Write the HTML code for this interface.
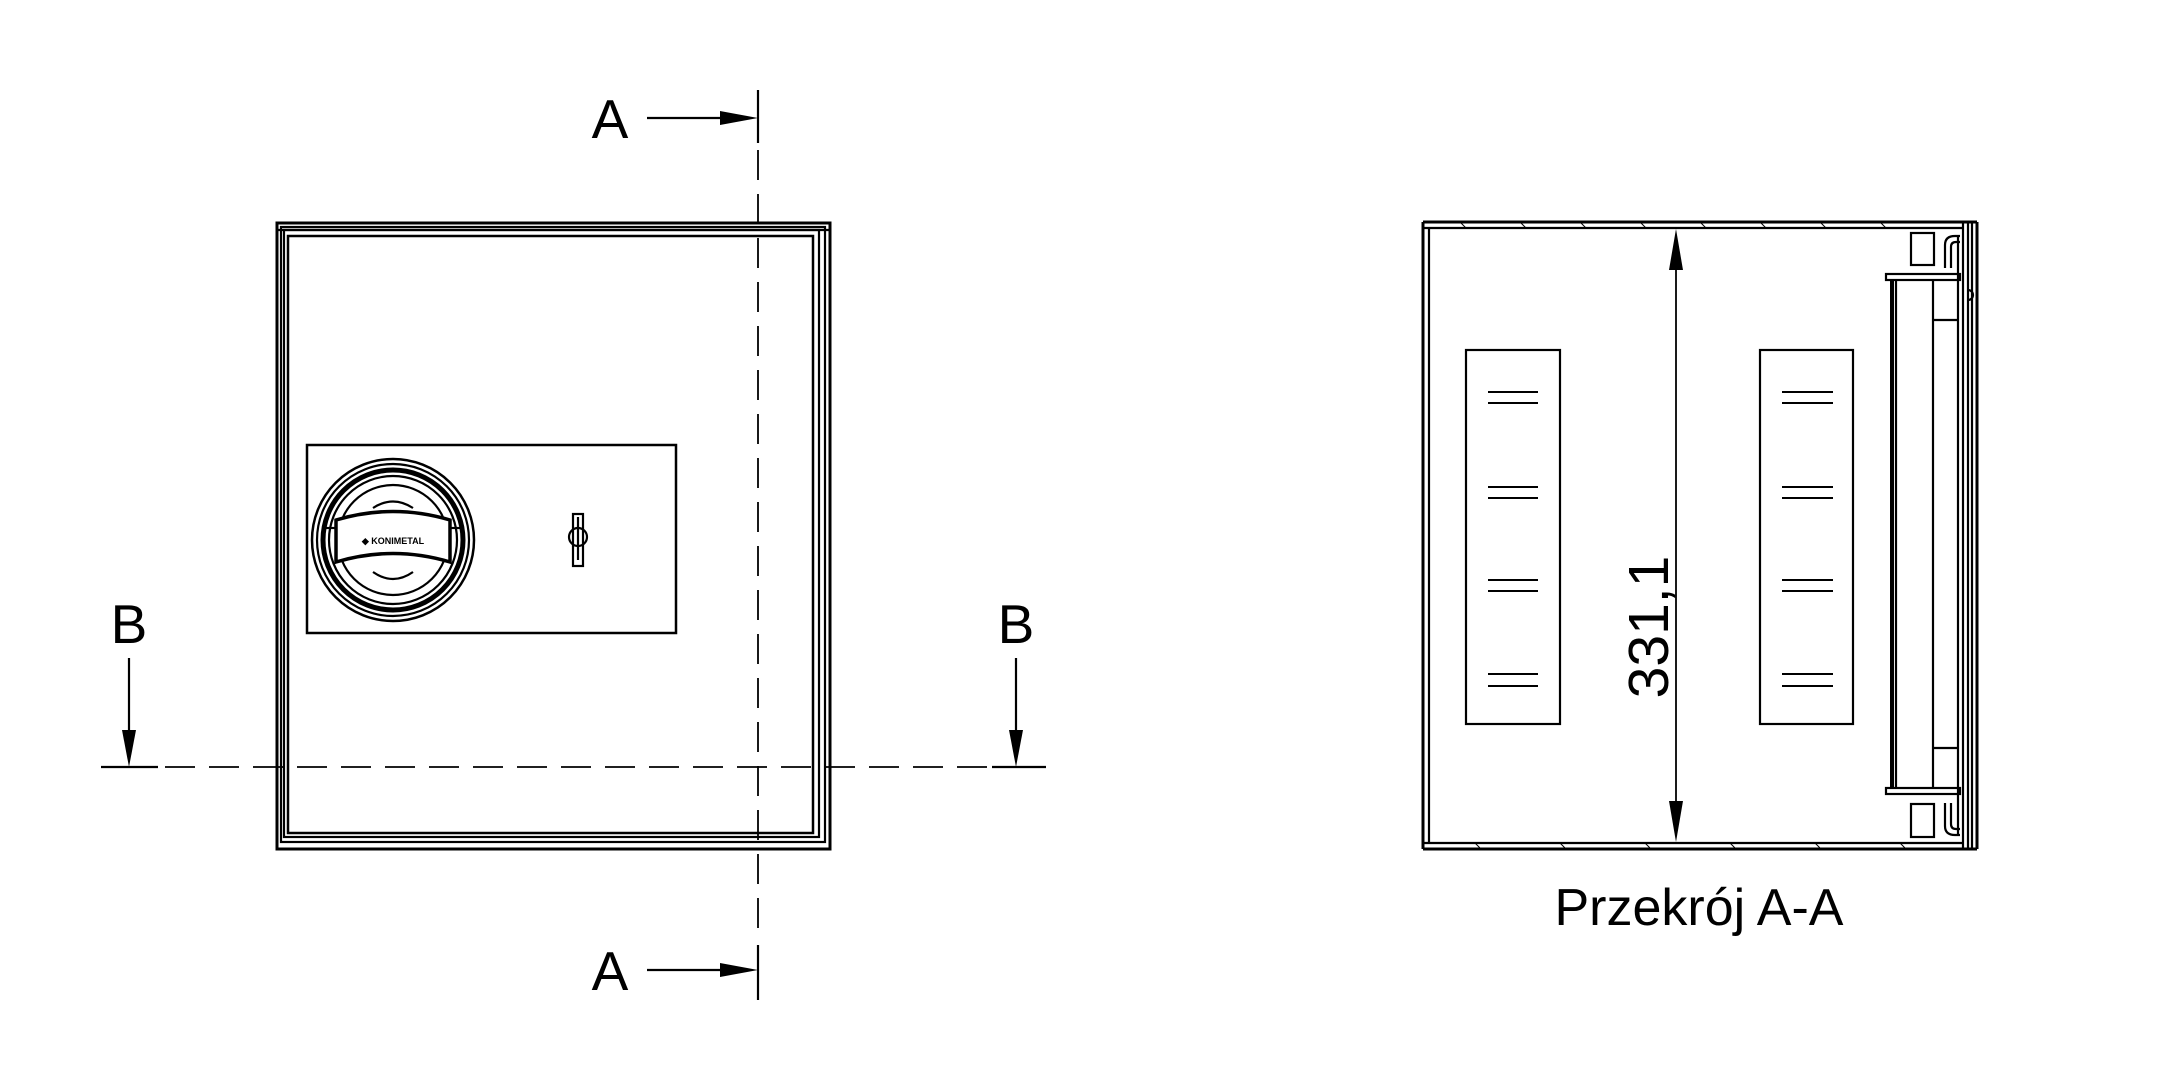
<!DOCTYPE html>
<html><head><meta charset="utf-8"><style>
html,body{margin:0;padding:0;background:#fff;width:2160px;height:1086px;overflow:hidden}
svg{display:block}
text{font-family:"Liberation Sans",sans-serif;fill:#000}
</style></head><body>
<svg width="2160" height="1086" viewBox="0 0 2160 1086" xmlns="http://www.w3.org/2000/svg">
<g fill="none" stroke="#000" stroke-width="2.2">
<rect x="277" y="223" width="553" height="626" stroke-width="3"/>
<rect x="281" y="227" width="544" height="615"/>
<rect x="284" y="230" width="535" height="607"/>
<rect x="288" y="236" width="525" height="597" stroke-width="2.5"/>
<line x1="277" y1="230" x2="830" y2="230"/>
<rect x="307" y="445" width="369" height="188" stroke-width="2.5"/>
<circle cx="393" cy="540" r="81" stroke-width="2.5"/>
<circle cx="393" cy="540" r="76"/>
<circle cx="393" cy="540" r="70" stroke-width="5"/>
<circle cx="393" cy="540" r="64"/>
<circle cx="393" cy="540" r="55"/>
<path d="M336 520 Q393 503 450 520 L450 562 Q393 545 336 562 Z" fill="#fff" stroke-width="3.5"/>
<path d="M373 508 Q393 495 413 508" />
<path d="M373 572 Q393 586 413 572" />
<line x1="322" y1="528" x2="336" y2="528"/>
<line x1="450" y1="528" x2="464" y2="528"/>
<rect x="573" y="514" width="10" height="52"/>
<line x1="578" y1="517" x2="578" y2="560"/>
<circle cx="578" cy="537" r="9"/>
<line x1="758" y1="90" x2="758" y2="143"/>
<line x1="758" y1="150" x2="758" y2="940" stroke-dasharray="30 14" stroke-width="1.8"/>
<line x1="758" y1="945" x2="758" y2="1000"/>
<line x1="647" y1="118" x2="725" y2="118"/>
<line x1="647" y1="970" x2="725" y2="970"/>
<line x1="101" y1="767" x2="158" y2="767"/>
<line x1="165" y1="767" x2="990" y2="767" stroke-dasharray="30 14" stroke-width="1.8"/>
<line x1="992" y1="767" x2="1046" y2="767"/>
<line x1="129" y1="658" x2="129" y2="735"/>
<line x1="1016" y1="658" x2="1016" y2="735"/>

<line x1="1423" y1="222" x2="1977" y2="222" stroke-width="3"/>
<line x1="1423" y1="228" x2="1963" y2="228"/>
<line x1="1423" y1="843" x2="1963" y2="843"/>
<line x1="1423" y1="849" x2="1977" y2="849" stroke-width="3"/>
<line x1="1423" y1="222" x2="1423" y2="849" stroke-width="3"/>
<line x1="1429" y1="228" x2="1429" y2="843"/>
<line x1="1963" y1="222" x2="1963" y2="849"/>
<line x1="1968" y1="222" x2="1968" y2="849"/>
<line x1="1972" y1="222" x2="1972" y2="849"/>
<line x1="1977" y1="222" x2="1977" y2="849" stroke-width="3"/>
<rect x="1466" y="350" width="94" height="374"/>
<rect x="1760" y="350" width="93" height="374"/>
<g stroke-width="2">
<path d="M1488 392H1538M1488 403H1538M1488 487H1538M1488 498H1538M1488 580H1538M1488 591H1538M1488 674H1538M1488 686H1538"/>
<path d="M1782 392H1833M1782 403H1833M1782 487H1833M1782 498H1833M1782 580H1833M1782 591H1833M1782 674H1833M1782 686H1833"/>
</g>
<line x1="1676" y1="268" x2="1676" y2="803" stroke-width="1.8"/>
<rect x="1911" y="233" width="23" height="32"/>
<rect x="1911" y="804" width="23" height="33"/>
<path d="M1945 268 V245 Q1945 236 1955 236 H1960 M1951 268 V247 Q1951 242 1956 242 H1960"/>
<path d="M1945 803 V826 Q1945 835 1955 835 H1960 M1951 803 V824 Q1951 829 1956 829 H1960"/>
<rect x="1886" y="274" width="74" height="6"/>
<rect x="1886" y="788" width="74" height="6"/>
<line x1="1892" y1="280" x2="1892" y2="788" stroke-width="4"/>
<line x1="1896" y1="280" x2="1896" y2="788"/>
<line x1="1933" y1="280" x2="1933" y2="788"/>
<line x1="1958" y1="236" x2="1958" y2="835"/>
<line x1="1933" y1="320" x2="1958" y2="320"/>
<line x1="1933" y1="748" x2="1958" y2="748"/>
<path d="M1968 290 A5 5 0 1 1 1968 300"/>
</g>
<g stroke="#000" stroke-width="1">
<path d="M1460 222 l6 6 M1520 222 l6 6 M1580 222 l6 6 M1640 222 l6 6 M1700 222 l6 6 M1760 222 l6 6 M1820 222 l6 6 M1880 222 l6 6"/>
<path d="M1475 843 l6 6 M1560 843 l6 6 M1645 843 l6 6 M1730 843 l6 6 M1815 843 l6 6 M1900 843 l6 6"/>
</g>
<g fill="#000">
<polygon points="758,118 720,111 720,125"/>
<polygon points="758,970 720,963 720,977"/>
<polygon points="129,767 122,730 136,730"/>
<polygon points="1016,767 1009,730 1023,730"/>
<polygon points="1676,229 1669,270 1683,270"/>
<polygon points="1676,842 1669,801 1683,801"/>
</g>
<text x="393" y="544" font-size="9" font-weight="bold" text-anchor="middle">◆ KONIMETAL</text>
<text x="610" y="138" font-size="55" text-anchor="middle">A</text>
<text x="610" y="990" font-size="55" text-anchor="middle">A</text>
<text x="129" y="643" font-size="55" text-anchor="middle">B</text>
<text x="1016" y="643" font-size="55" text-anchor="middle">B</text>
<text transform="translate(1668,627) rotate(-90)" font-size="57" text-anchor="middle">331,1</text>
<text x="1699" y="925" font-size="52" text-anchor="middle">Przekrój A-A</text>
</svg>
</body></html>
